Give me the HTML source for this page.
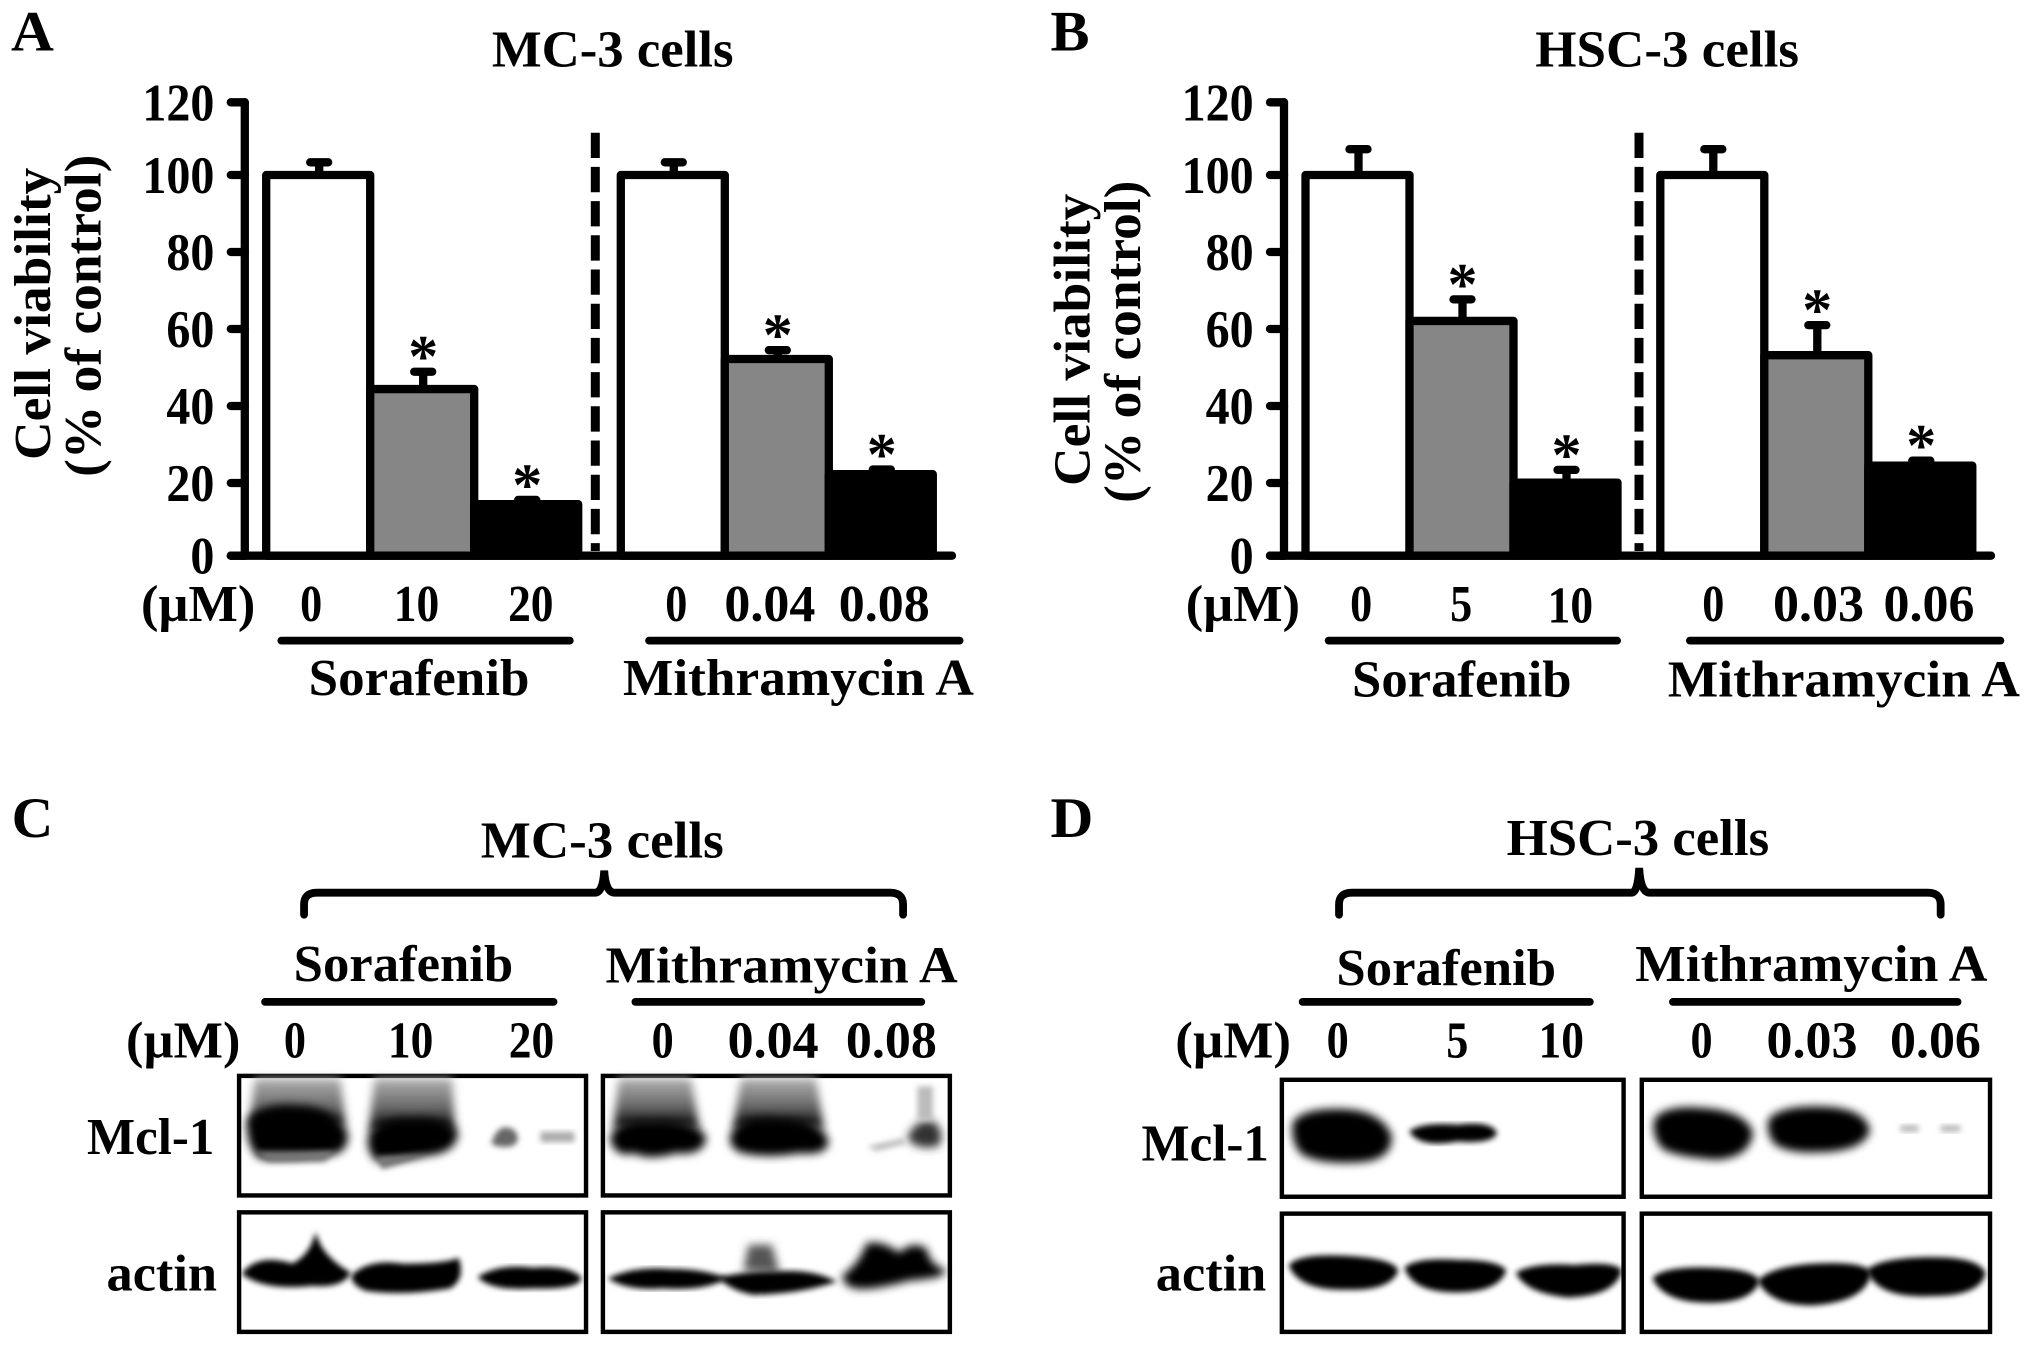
<!DOCTYPE html>
<html lang="en">
<head>
<meta charset="utf-8">
<title>Cell viability and Mcl-1 expression</title>
<style>
html,body{margin:0;padding:0;background:#fff;}
svg{display:block;}
text{font-family:"Liberation Serif",serif;font-weight:bold;fill:#000;}
.t{font-size:40px;}
.p{font-size:44px;}
.u{stroke:#000;stroke-width:6;stroke-linecap:round;}
.box{fill:#fff;stroke:#000;stroke-width:3.4;}
.br{fill:none;stroke:#000;stroke-width:6;stroke-linecap:round;}
.k{fill:#000;stroke:#000;stroke-width:3;}
</style>
</head>
<body>
<svg id="figure" width="2031" height="1346" viewBox="0 0 2031 1346" xmlns="http://www.w3.org/2000/svg">
<defs>
<filter id="b1" x="-30%" y="-30%" width="160%" height="160%"><feGaussianBlur stdDeviation="2.2"/></filter>
<filter id="b2" x="-30%" y="-30%" width="160%" height="160%"><feGaussianBlur stdDeviation="3.5"/></filter>
<linearGradient id="sm" x1="0" y1="0" x2="0" y2="1"><stop offset="0" stop-color="#b0b0b0"/><stop offset="0.55" stop-color="#6a6a6a"/><stop offset="1" stop-color="#000"/></linearGradient>
</defs>
<rect width="2031" height="1346" fill="#fff"/>

<g transform="scale(1.2994)">
<g id="panel-a" transform="translate(-2.5,-2)">
<text class="p" x="11" y="41" textLength="33" lengthAdjust="spacingAndGlyphs">A</text>
<text class="t" x="381" y="53" textLength="186" lengthAdjust="spacingAndGlyphs">MC-3 cells</text>
<text class="t" transform="translate(41,356) rotate(-90)" textLength="225" lengthAdjust="spacingAndGlyphs">Cell viability</text>
<text class="t" transform="translate(80,369) rotate(-90)" textLength="248" lengthAdjust="spacingAndGlyphs">(% of control)</text>
<text class="t" x="111" y="480" textLength="88" lengthAdjust="spacingAndGlyphs">(µM)</text>
<text class="t" x="242" y="480" text-anchor="middle" textLength="17" lengthAdjust="spacingAndGlyphs">0</text>
<text class="t" x="323" y="480" text-anchor="middle" textLength="35" lengthAdjust="spacingAndGlyphs">10</text>
<text class="t" x="411" y="480" text-anchor="middle" textLength="35" lengthAdjust="spacingAndGlyphs">20</text>
<text class="t" x="523" y="480" text-anchor="middle" textLength="17" lengthAdjust="spacingAndGlyphs">0</text>
<text class="t" x="595" y="480" text-anchor="middle" textLength="70" lengthAdjust="spacingAndGlyphs">0.04</text>
<text class="t" x="683" y="480" text-anchor="middle" textLength="70" lengthAdjust="spacingAndGlyphs">0.08</text>
<line class="u" x1="219" y1="495" x2="441" y2="495"/>
<line class="u" x1="502" y1="495" x2="741" y2="495"/>
<text class="t" x="240" y="537" textLength="170" lengthAdjust="spacingAndGlyphs">Sorafenib</text>
<text class="t" x="482" y="537" textLength="270" lengthAdjust="spacingAndGlyphs">Mithramycin A</text>
</g>

<g id="panel-b" transform="translate(-6.5,-2)">
<text class="p" x="815" y="41" textLength="30" lengthAdjust="spacingAndGlyphs">B</text>
<text class="t" x="1188" y="53" textLength="203" lengthAdjust="spacingAndGlyphs">HSC-3 cells</text>
<text class="t" transform="translate(845,376) rotate(-90)" textLength="225" lengthAdjust="spacingAndGlyphs">Cell viability</text>
<text class="t" transform="translate(884,389) rotate(-90)" textLength="248" lengthAdjust="spacingAndGlyphs">(% of control)</text>
<text class="t" x="919" y="480" textLength="88" lengthAdjust="spacingAndGlyphs">(µM)</text>
<text class="t" x="1054" y="480" text-anchor="middle" textLength="17" lengthAdjust="spacingAndGlyphs">0</text>
<text class="t" x="1131" y="480" text-anchor="middle" textLength="17" lengthAdjust="spacingAndGlyphs">5</text>
<text class="t" x="1215" y="481" text-anchor="middle" textLength="35" lengthAdjust="spacingAndGlyphs">10</text>
<text class="t" x="1325" y="480" text-anchor="middle" textLength="17" lengthAdjust="spacingAndGlyphs">0</text>
<text class="t" x="1406" y="480" text-anchor="middle" textLength="70" lengthAdjust="spacingAndGlyphs">0.03</text>
<text class="t" x="1491" y="480" text-anchor="middle" textLength="70" lengthAdjust="spacingAndGlyphs">0.06</text>
<line class="u" x1="1029" y1="495" x2="1251" y2="495"/>
<line class="u" x1="1307" y1="495" x2="1546" y2="495"/>
<text class="t" x="1047" y="538" textLength="169" lengthAdjust="spacingAndGlyphs">Sorafenib</text>
<text class="t" x="1290" y="538" textLength="271" lengthAdjust="spacingAndGlyphs">Mithramycin A</text>
</g>

<g id="panel-c" transform="translate(-2,-2)">
<text class="p" x="11" y="646" textLength="32" lengthAdjust="spacingAndGlyphs">C</text>
<text class="t" x="372" y="662" textLength="187" lengthAdjust="spacingAndGlyphs">MC-3 cells</text>
<path class="br" d="M236 706 V698 Q236 689 246 689 H460 Q466 689 467 672 Q468 689 475 689 H687 Q697 689 697 698 V706"/>
<text class="t" x="228" y="757" textLength="169" lengthAdjust="spacingAndGlyphs">Sorafenib</text>
<text class="t" x="468" y="758" textLength="271" lengthAdjust="spacingAndGlyphs">Mithramycin A</text>
<line class="u" x1="206" y1="773" x2="428" y2="773"/>
<line class="u" x1="491" y1="773" x2="711" y2="773"/>
<text class="t" x="99" y="816" textLength="88" lengthAdjust="spacingAndGlyphs">(µM)</text>
<text class="t" x="229" y="816" text-anchor="middle" textLength="17" lengthAdjust="spacingAndGlyphs">0</text>
<text class="t" x="318" y="816" text-anchor="middle" textLength="35" lengthAdjust="spacingAndGlyphs">10</text>
<text class="t" x="411" y="816" text-anchor="middle" textLength="35" lengthAdjust="spacingAndGlyphs">20</text>
<text class="t" x="512" y="816" text-anchor="middle" textLength="17" lengthAdjust="spacingAndGlyphs">0</text>
<text class="t" x="597" y="816" text-anchor="middle" textLength="70" lengthAdjust="spacingAndGlyphs">0.04</text>
<text class="t" x="688" y="816" text-anchor="middle" textLength="70" lengthAdjust="spacingAndGlyphs">0.08</text>
<text class="t" x="69" y="890" textLength="98" lengthAdjust="spacingAndGlyphs">Mcl-1</text>
<text class="t" x="84" y="995" textLength="85" lengthAdjust="spacingAndGlyphs">actin</text>

<g transform="translate(0,-2)">
<g>
<rect class="box" x="186" y="832" width="267" height="92"/>
<path fill="url(#sm)" filter="url(#b2)" d="M198 834 H264 L268 870 H194Z M290 834 H350 L352 874 H286Z"/>
<path class="k" filter="url(#b2)" d="M194 866 Q205 854 228 856 Q258 856 268 876 Q270 892 250 892 Q220 896 202 894 Q192 884 194 866Z"/>
<path class="k" filter="url(#b2)" d="M287 878 Q294 864 320 866 Q345 864 353 876 Q352 890 330 892 Q302 898 292 896 Q285 888 287 878Z"/>
<path fill="#777" filter="url(#b1)" d="M292 894 L330 892 L296 904Z M198 890 H260 L252 898 H208Z"/>
<path fill="#666" filter="url(#b1)" d="M380 884 Q386 866 398 874 Q404 882 396 886 Q386 888 380 884Z"/>
<path fill="#aaa" filter="url(#b1)" d="M418 875 H444 V883 H418Z"/>
</g>
<g>
<rect class="box" x="466" y="832" width="267" height="92"/>
<path fill="url(#sm)" filter="url(#b2)" d="M478 834 H534 L540 872 H474Z M572 834 H630 L636 872 H566Z"/>
<path class="k" filter="url(#b2)" d="M473 880 Q478 866 502 868 Q537 866 544 880 Q542 892 522 890 Q502 896 490 890 Q476 894 473 880Z"/>
<path class="k" filter="url(#b2)" d="M565 880 Q570 862 602 866 Q632 866 638 882 Q638 892 617 890 Q592 894 574 890 Q566 888 565 880Z"/>
<path fill="#333" filter="url(#b2)" d="M700 880 Q708 862 722 868 Q730 878 724 886 Q708 890 700 880Z"/>
<path fill="#bbb" filter="url(#b1)" d="M670 886 L697 880 L700 884 L676 890Z M708 840 H720 V866 H708Z"/>
</g>
<g>
<rect class="box" x="186" y="937" width="267" height="92"/>
<path class="k" filter="url(#b1)" d="M190 984 Q202 970 227 978 Q240 972 245 957 Q250 972 270 984 Q264 994 242 992 Q207 996 190 984Z"/>
<path class="k" filter="url(#b1)" d="M274 986 Q287 974 312 978 Q342 978 354 974 Q358 988 348 994 Q312 1000 284 996 Q274 992 274 986Z"/>
<path class="k" filter="url(#b1)" d="M372 987 Q387 978 412 981 Q440 979 448 988 Q444 995 412 994 Q382 996 372 987Z"/>
</g>
<g>
<rect class="box" x="466" y="937" width="267" height="92"/>
<path class="k" filter="url(#b1)" d="M473 988 Q492 980 517 982 Q542 982 558 988 Q542 996 512 994 Q487 996 473 988Z"/>
<path fill="#555" filter="url(#b2)" d="M574 982 L578 962 H596 L602 984Z"/>
<path class="k" filter="url(#b1)" d="M558 988 Q574 984 600 984 Q625 982 642 990 Q617 998 582 999 Q566 996 558 988Z"/>
<path class="k" filter="url(#b2)" d="M652 986 Q664 978 670 962 Q682 960 694 970 Q704 960 714 966 Q716 978 728 982 Q728 986 702 988 Q672 996 660 994 Q652 992 652 986Z"/>
</g>
</g>
</g>

<g id="panel-d" transform="translate(-9.5,-2)">
<text class="p" x="818" y="646" textLength="33" lengthAdjust="spacingAndGlyphs">D</text>
<text class="t" x="1169" y="660" textLength="202" lengthAdjust="spacingAndGlyphs">HSC-3 cells</text>
<path class="br" d="M1040 706 V698 Q1040 689 1050 689 H1265 Q1270 689 1271 670 Q1272 689 1279 689 H1493 Q1503 689 1503 698 V706"/>
<text class="t" x="1038" y="760" textLength="169" lengthAdjust="spacingAndGlyphs">Sorafenib</text>
<text class="t" x="1268" y="757" textLength="271" lengthAdjust="spacingAndGlyphs">Mithramycin A</text>
<line class="u" x1="1012" y1="773" x2="1233" y2="773"/>
<line class="u" x1="1297" y1="773" x2="1516" y2="773"/>
<text class="t" x="914" y="816" textLength="89" lengthAdjust="spacingAndGlyphs">(µM)</text>
<text class="t" x="1039" y="816" text-anchor="middle" textLength="17" lengthAdjust="spacingAndGlyphs">0</text>
<text class="t" x="1131" y="816" text-anchor="middle" textLength="17" lengthAdjust="spacingAndGlyphs">5</text>
<text class="t" x="1211" y="816" text-anchor="middle" textLength="35" lengthAdjust="spacingAndGlyphs">10</text>
<text class="t" x="1319" y="816" text-anchor="middle" textLength="17" lengthAdjust="spacingAndGlyphs">0</text>
<text class="t" x="1404" y="816" text-anchor="middle" textLength="70" lengthAdjust="spacingAndGlyphs">0.03</text>
<text class="t" x="1499" y="816" text-anchor="middle" textLength="70" lengthAdjust="spacingAndGlyphs">0.06</text>
<text class="t" x="888" y="895" textLength="98" lengthAdjust="spacingAndGlyphs">Mcl-1</text>
<text class="t" x="899" y="995" textLength="85" lengthAdjust="spacingAndGlyphs">actin</text>

<g transform="translate(3,-2)">
<g>
<rect class="box" x="993" y="835" width="263" height="90"/>
<path class="k" filter="url(#b2)" d="M1003 868 Q1011 858 1040 859 Q1068 860 1076 878 Q1077 895 1053 897 Q1023 899 1009 891 Q1001 882 1003 868Z"/>
<path class="k" filter="url(#b1)" d="M1093 875 Q1103 869 1128 871 Q1153 868 1157 876 Q1153 883 1128 881 Q1101 886 1093 875Z"/>
</g>
<g>
<rect class="box" x="1270" y="835" width="268" height="90"/>
<path class="k" filter="url(#b2)" d="M1281 866 Q1288 856 1315 858 Q1349 860 1354 876 Q1352 893 1328 895 Q1298 893 1287 887 Q1279 878 1281 866Z"/>
<path class="k" filter="url(#b2)" d="M1369 866 Q1378 856 1408 857 Q1441 858 1444 874 Q1440 887 1413 889 Q1383 891 1373 883 Q1367 876 1369 866Z"/>
<path fill="#b5b5b5" filter="url(#b1)" d="M1469 870 H1483 V875 H1469Z M1500 870 H1515 V875 H1500Z"/>
</g>
<g>
<rect class="box" x="993" y="938" width="263" height="91"/>
<path class="k" filter="url(#b1)" d="M1000 978 Q1008 970 1043 972 Q1078 974 1081 982 Q1075 996 1043 995 Q1008 996 1000 978Z"/>
<path class="k" filter="url(#b1)" d="M1089 980 Q1098 973 1128 975 Q1158 975 1164 982 Q1158 998 1123 997 Q1095 996 1089 980Z"/>
<path class="k" filter="url(#b1)" d="M1175 984 Q1188 977 1218 979 Q1248 976 1253 982 Q1248 1000 1213 1001 Q1183 998 1175 984Z"/>
</g>
<g>
<rect class="box" x="1270" y="938" width="268" height="91"/>
<path class="k" filter="url(#b1)" d="M1280 988 Q1288 980 1323 981 Q1355 982 1359 990 Q1353 1006 1318 1005 Q1288 1004 1280 988Z"/>
<path class="k" filter="url(#b1)" d="M1361 990 Q1371 980 1403 978 Q1441 976 1445 984 Q1441 1004 1403 1007 Q1371 1008 1361 990Z"/>
<path class="k" filter="url(#b1)" d="M1445 982 Q1453 974 1488 973 Q1528 972 1533 984 Q1529 1000 1493 1000 Q1453 1002 1445 982Z"/>
</g>
</g>
</g>
</g>

<g id="chart-a"></g>
<g id="chart-b"></g>
</svg>

<script>
var yTickValues = [0, 20, 40, 60, 80, 100, 120];
var categoriesA = ['sorafenib-0', 'sorafenib-10', 'sorafenib-20', 'mithramycin-0', 'mithramycin-0.04', 'mithramycin-0.08'];
var valuesA = [100, 44.4, 14.5, 100, 52.2, 22.3];
var errorsA = [3.3, 4.5, 1.1, 3.3, 2.3, 1.2];
var significantA = [false, true, true, false, true, true];
var categoriesB = ['sorafenib-0', 'sorafenib-5', 'sorafenib-10', 'mithramycin-0', 'mithramycin-0.03', 'mithramycin-0.06'];
var valuesB = [100, 62.1, 20.1, 100, 53.2, 24.5];
var errorsB = [6.7, 5.6, 3.3, 6.7, 7.8, 1.3];
var significantB = [false, true, true, false, true, true];

var SVG_NS = 'http://www.w3.org/2000/svg';
var ZERO_Y = 560;
var BASE_Y = 555.7;
var TOP_Y = 102.3;
var PX_PER_UNIT = 3.85;
var STROKE = 8.3;
var fills = ['#fff', '#868686', '#000'];

function yScale(v) { return Math.max(TOP_Y, Math.min(BASE_Y, ZERO_Y - v * PX_PER_UNIT)); }

function make(parent, tag, attrs) {
  var el = document.createElementNS(SVG_NS, tag);
  for (var k in attrs) { el.setAttribute(k, attrs[k]); }
  parent.appendChild(el);
  return el;
}

function drawChart(rootId, suffix, geom, categories, values, errors, significant) {
  var root = document.getElementById(rootId);
  function xScale(i) { return geom.first + i * geom.step + (i >= 3 ? geom.gap : 0); }

  var axisY = make(root, 'line', {x1: geom.axis, y1: yScale(120), x2: geom.axis, y2: BASE_Y, stroke: '#000', 'stroke-width': STROKE, 'stroke-linecap': 'round'});
  
  

  yTickValues.forEach(function (v) {
    var tick = make(root, 'line', {x1: geom.axis - 14, y1: yScale(v), x2: geom.axis, y2: yScale(v), stroke: '#000', 'stroke-width': STROKE, 'stroke-linecap': 'round'});
    
    
    var text = String(v);
    var label = make(root, 'text', {x: geom.labelRight, y: yScale(v) + 18, 'text-anchor': 'end', style: 'font-size:53px', textLength: text.length * 24, lengthAdjust: 'spacingAndGlyphs'});
    label.textContent = text;
    
    
  });

  var divider = make(root, 'line', {x1: geom.divider, y1: 132.7, x2: geom.divider, y2: 551, stroke: '#000', 'stroke-width': 9, 'stroke-dasharray': '25.3 8.9'});
  
  

  values.forEach(function (v, i) {
    var x = xScale(i);
    var cx = x + geom.step / 2;
    var top = yScale(v);
    var errTop = yScale(v + errors[i]);

    var stem = make(root, 'line', {x1: cx + 1, y1: top, x2: cx + 1, y2: errTop, stroke: '#000', 'stroke-width': STROKE});
    
    

    var cap = make(root, 'line', {x1: cx - 8, y1: errTop, x2: cx + 10, y2: errTop, stroke: '#000', 'stroke-width': STROKE, 'stroke-linecap': 'round'});
    
    

    var bar = make(root, 'rect', {x: x, y: top, width: geom.step, height: BASE_Y - top, fill: fills[i % 3], stroke: '#000', 'stroke-width': STROKE, 'stroke-linejoin': 'round'});
    
    

    if (significant[i]) {
      var star = make(root, 'text', {x: cx + 1, y: errTop + 5, 'text-anchor': 'middle', style: 'font-size:60px'});
      star.textContent = '*';
      
      
    }
  });

  var axisX = make(root, 'line', {x1: geom.axis - 14, y1: BASE_Y, x2: geom.end, y2: BASE_Y, stroke: '#000', 'stroke-width': STROKE, 'stroke-linecap': 'round'});
  
  
}

drawChart('chart-a', 'a', {axis: 244.8, labelRight: 214.4, first: 266.2, step: 104, gap: 42.6, divider: 595.3, end: 952}, categoriesA, valuesA, errorsA, significantA);
drawChart('chart-b', 'b', {axis: 1284, labelRight: 1253.6, first: 1305.5, step: 104, gap: 42.8, divider: 1639, end: 1991}, categoriesB, valuesB, errorsB, significantB);
</script>
</body>
</html>
